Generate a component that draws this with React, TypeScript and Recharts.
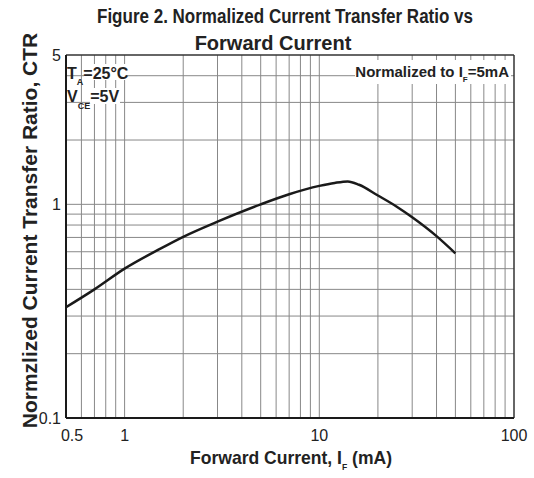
import React from "react";
import { LineChart, Line, XAxis, YAxis, CartesianGrid, ReferenceLine } from "recharts";

// forward current (mA) and normalized CTR
const currentMa = [0.5, 0.7, 1, 1.5, 2, 3, 5, 7, 10, 12, 14, 16, 20, 25, 30, 40, 50];
const ctrNorm = [0.33, 0.4, 0.5, 0.615, 0.705, 0.83, 1.0, 1.115, 1.22, 1.26, 1.28, 1.235, 1.1, 0.975, 0.87, 0.71, 0.59];

const xTicks = [0.5, 1, 10, 100];
const yTicks = [0.1, 1, 5];
const xGrid = [0.6, 0.7, 0.8, 0.9, 1, 2, 3, 4, 5, 6, 7, 8, 9, 10, 20, 30, 40, 50, 60, 70, 80, 90];
const yGrid = [0.2, 0.3, 0.4, 0.5, 0.6, 0.7, 0.8, 0.9, 1, 2, 3, 4];

const data = currentMa.map((x, i) => ({ x, ctr: ctrNorm[i] }));

const FONT = "'Liberation Sans', Arial, sans-serif";
const INK = "#222";

function XTick(props: any) {
  const { x, y, payload } = props;
  const dx = payload.value === 0.5 ? 6 : 0;
  return (
    <text x={x + dx} y={y} dy="0.71em" textAnchor="middle" fontSize={16} fontFamily={FONT} fill={INK}>
      {payload.value}
    </text>
  );
}

function YTick(props: any) {
  const { x, y, payload } = props;
  return (
    <text x={x} y={y} dy="0.36em" textAnchor="end" fontSize={16} fontFamily={FONT} fill={INK}>
      {payload.value}
    </text>
  );
}

function Labels() {
  const bold = { fontFamily: FONT, fontWeight: 700, fill: INK } as const;
  return (
    <svg width={534} height={478} style={{ position: "absolute", left: 0, top: 0, pointerEvents: "none" }}>
      <text x={97} y={23} fontSize={20} textLength={376} lengthAdjust="spacingAndGlyphs" {...bold}>
        Figure 2. Normalized Current Transfer Ratio vs
      </text>
      <text x={273} y={50} fontSize={20} textAnchor="middle" {...bold}>
        Forward Current
      </text>

      <text transform="translate(37,230.5) rotate(-90)" textAnchor="middle" fontSize={21} {...bold}>
        Normzlized Current Transfer Ratio, CTR
      </text>

      <text x={190} y={464} fontSize={18.5} textLength={202} lengthAdjust="spacingAndGlyphs" {...bold}>
        Forward Current, I
        <tspan fontSize={9} dy={6}>F</tspan>
        <tspan dy={-6}> (mA)</tspan>
      </text>

      {/* conditions, top left */}
      <rect x={84} y={64} width={42} height={16} fill="#fff" />
      <rect x={90} y={88} width={30} height={16} fill="#fff" />
      <text x={67} y={78.5} fontSize={16} {...bold}>
        T<tspan fontSize={9} dy={6}>A</tspan>
        <tspan dy={-6}>=25°C</tspan>
      </text>
      <text x={67} y={101.7} fontSize={16} {...bold}>
        V<tspan fontSize={9} dy={7}>CE</tspan>
        <tspan dy={-7}>=5V</tspan>
      </text>

      {/* normalization note, top right */}
      <rect x={355} y={60} width={156} height={24} fill="#fff" />
      <text x={509} y={76.7} fontSize={15} textAnchor="end" {...bold}>
        Normalized to I<tspan fontSize={8} dy={5}>F</tspan>
        <tspan dy={-5}>=5mA</tspan>
      </text>
    </svg>
  );
}

export default function App() {
  return (
    <div style={{ position: "absolute", left: 0, top: 0, width: 534, height: 478, background: "#fff" }}>
      <LineChart width={534} height={478} data={data} margin={{ top: 55, right: 20, left: 0, bottom: 0 }}>
        <CartesianGrid verticalValues={xGrid} horizontalValues={yGrid} stroke="#888" strokeWidth={1} />
        <XAxis
          dataKey="x"
          type="number"
          scale="log"
          domain={[0.5, 100]}
          allowDataOverflow
          ticks={xTicks}
          interval={0}
          height={60}
          tickLine={false}
          tickSize={0}
          tickMargin={12}
          tick={<XTick />}
          axisLine={{ stroke: "#1a1a1a", strokeWidth: 2 }}
        />
        <YAxis
          type="number"
          scale="log"
          domain={[0.1, 5]}
          allowDataOverflow
          ticks={yTicks}
          interval={0}
          width={66}
          tickLine={false}
          tickSize={0}
          tickMargin={5}
          tick={<YTick />}
          axisLine={{ stroke: "#1a1a1a", strokeWidth: 2 }}
        />
        <ReferenceLine x={100} stroke="#333" strokeWidth={1.5} />
        <ReferenceLine y={5} stroke="#333" strokeWidth={1.5} />
        <Line
          dataKey="ctr"
          type="monotone"
          stroke="#1a1a1a"
          strokeWidth={2.5}
          dot={false}
          isAnimationActive={false}
        />
      </LineChart>
      <Labels />
    </div>
  );
}
